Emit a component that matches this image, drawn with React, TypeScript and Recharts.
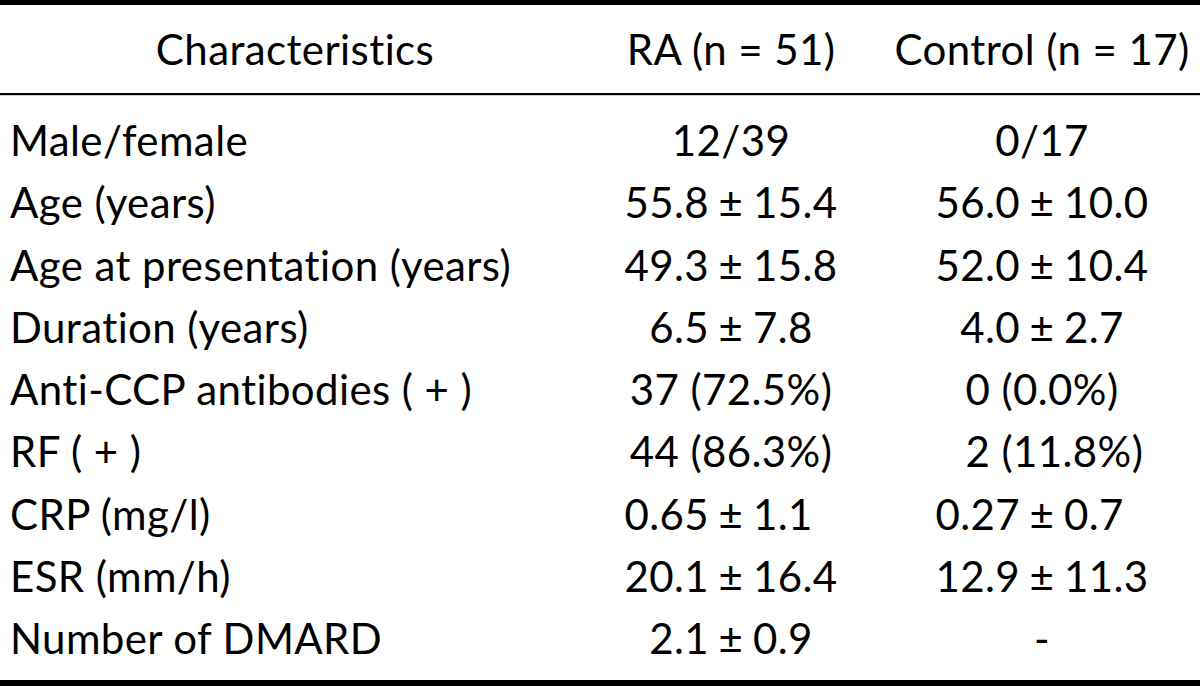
import React from "react";
import { ComposedChart, XAxis, YAxis, Line, useChartWidth } from "recharts";

const columnHeaders = ["Characteristics", "RA (n = 51)", "Control (n = 17)"];
const characteristics = [
  "Male/female",
  "Age (years)",
  "Age at presentation (years)",
  "Duration (years)",
  "Anti-CCP antibodies ( + )",
  "RF ( + )",
  "CRP (mg/l)",
  "ESR (mm/h)",
  "Number of DMARD",
];
const raValues = [
  "12/39",
  "55.8±15.4",
  "49.3±15.8",
  "6.5±7.8",
  "37 (72.5%)",
  "44 (86.3%)",
  "0.65±1.1",
  "20.1±16.4",
  "2.1±0.9",
];
const controlValues = [
  "0/17",
  "56.0±10.0",
  "52.0±10.4",
  "4.0±2.7",
  "0 (0.0%)",
  "\u20072 (11.8%)",
  "0.27±0.7",
  "12.9±11.3",
  "-",
];

const rows = characteristics.map((label, i) => ({
  label,
  ra: raValues[i],
  control: controlValues[i],
}));

// layout constants
const W = 1200;
const H = 686;
const FONT = "Lato, 'Open Sans', sans-serif";
const FS = 42;
const LS = 0.4;
const LABEL_X = 10;
const COL_HEADER_X = 295;
const COL_RA_X = 731;
const COL_CTRL_X = 1042;
const HEADER_BASELINE = 65;
const FIRST_ROW_CENTER = 141;
const LAST_ROW_CENTER = 639;
const CAP_DY = 15;
const PM_SEP = 22;
const X_AXIS_H = 20;
const Y_AXIS_W = 10;

const headerTicks = [COL_HEADER_X, COL_RA_X, COL_CTRL_X];

const textProps = {
  fontFamily: FONT,
  fontSize: FS,
  fill: "#000",
  letterSpacing: LS,
};

function Rules() {
  const w = useChartWidth() ?? W;
  return (
    <g>
      <rect x={0} y={0} width={w} height={5} fill="#000" />
      <rect x={0} y={93} width={w} height={2.2} fill="#000" />
      <rect x={0} y={680} width={w} height={6} fill="#000" />
    </g>
  );
}

const HeaderTick = (p: any) => {
  const idx = headerTicks.indexOf(p.payload.value);
  return (
    <text x={p.x} y={HEADER_BASELINE} textAnchor="middle" {...textProps}>
      {columnHeaders[idx]}
    </text>
  );
};

const RowTick = (p: any) => (
  <text x={LABEL_X} y={p.y} dy={CAP_DY} textAnchor="start" {...textProps} style={{ whiteSpace: "pre" }}>
    {p.payload.value}
  </text>
);

const makeCell = (key: "ra" | "control") => (p: any) => {
  const v: string = p.payload[key];
  const y = p.cy + CAP_DY;
  if (v.includes("±")) {
    const [l, r] = v.split("±");
    return (
      <g key={`${key}-${p.index}`}>
        <text x={p.cx - PM_SEP} y={y} textAnchor="end" {...textProps}>
          {l}
        </text>
        <text x={p.cx} y={y} textAnchor="middle" {...textProps}>
          ±
        </text>
        <text x={p.cx + PM_SEP} y={y} textAnchor="start" {...textProps}>
          {r}
        </text>
      </g>
    );
  }
  return (
    <text
      key={`${key}-${p.index}`}
      x={p.cx}
      y={y}
      textAnchor="middle"
      {...textProps}
      style={{ whiteSpace: "pre" }}
    >
      {v}
    </text>
  );
};

export default function App() {
  return (
    <div style={{ position: "absolute", left: 0, top: 0, width: W, height: H, background: "#fff" }}>
      <ComposedChart
        width={W}
        height={H}
        data={rows}
        layout="vertical"
        margin={{ top: FIRST_ROW_CENTER - X_AXIS_H, right: 0, bottom: H - LAST_ROW_CENTER, left: 0 }}
      >
        <XAxis
          type="number"
          domain={[Y_AXIS_W, W]}
          orientation="top"
          ticks={headerTicks}
          tick={HeaderTick}
          interval={0}
          axisLine={false}
          tickLine={false}
          height={X_AXIS_H}
          allowDataOverflow
        />
        <YAxis
          type="category"
          dataKey="label"
          width={Y_AXIS_W}
          tick={RowTick}
          interval={0}
          axisLine={false}
          tickLine={false}
        />
        <Line
          dataKey={() => COL_RA_X}
          stroke="none"
          dot={makeCell("ra")}
          activeDot={false}
          isAnimationActive={false}
        />
        <Line
          dataKey={() => COL_CTRL_X}
          stroke="none"
          dot={makeCell("control")}
          activeDot={false}
          isAnimationActive={false}
        />
        <Rules />
      </ComposedChart>
    </div>
  );
}
